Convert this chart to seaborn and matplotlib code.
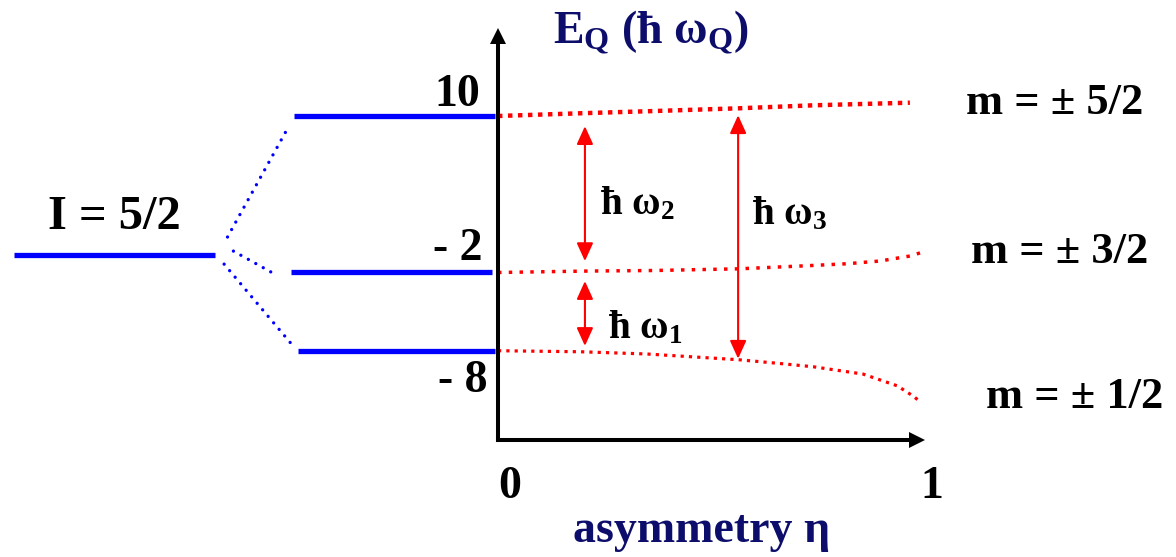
import numpy as np
import pandas as pd
import matplotlib
matplotlib.use("Agg")
import matplotlib.pyplot as plt
import seaborn as sns

# Quadrupole energies E_Q (units of hbar*omega_Q) versus asymmetry eta, I = 5/2
eta_52 = [0.0, 0.196, 0.369, 0.570, 0.747, 0.976]
E_52 = [10.0, 10.21, 10.38, 10.59, 10.82, 11.02]

eta_32 = [0.0, 0.213, 0.367, 0.570, 0.747, 0.827, 0.905, 0.976, 1.0]
E_32 = [-2.0, -1.89, -1.85, -1.72, -1.46, -1.33, -1.12, -0.74, -0.5]

eta_12 = [0.0, 0.196, 0.352, 0.570, 0.668, 0.747, 0.865, 0.946, 0.983, 1.0]
E_12 = [-8.0, -8.08, -8.25, -8.69, -8.98, -9.23, -9.79, -10.69, -11.46, -11.9]

level_labels = ["m = \u00b1 5/2", "m = \u00b1 3/2", "m = \u00b1 1/2"]
tick_values = [10, -2, -8]
tick_texts = ["10", "- 2", "- 8"]
E_unsplit = -0.67  # unperturbed I = 5/2 level in the schematic

W, H = 1176, 557
NAVY = "#0d0d6b"
BLUE = "#0000ff"
RED = "#ff0000"

sns.set_theme(style="white")
plt.rcParams["font.family"] = ["Liberation Serif", "DejaVu Serif"]
plt.rcParams["mathtext.fontset"] = "custom"
plt.rcParams["mathtext.rm"] = "Liberation Serif:bold"
plt.rcParams["mathtext.bf"] = "Liberation Serif:bold"
plt.rcParams["mathtext.it"] = "Liberation Serif:bold"


def fx(px):
    return px / W


def fy(py):
    return 1 - py / H


fig = plt.figure(figsize=(W / 100, H / 100), dpi=100)
ax_left, ax_right, ax_top, ax_bot = 498, 917, 36, 440
ax = fig.add_axes([fx(ax_left), fy(ax_bot), (ax_right - ax_left) / W, (ax_bot - ax_top) / H])

px_per_eta = 422.0
px_per_E = 13.04
y_ten = 116
ax.set_xlim(0, (ax_right - ax_left) / px_per_eta)
ax.set_ylim(10 - (ax_bot - y_ten) / px_per_E, 10 + (y_ten - ax_top) / px_per_E)

# eta-dependent levels
curves = [
    (eta_52, E_52, 3.2, (0, (1.0, 1.25))),
    (eta_32, E_32, 2.5, (0, (1.0, 2.1))),
    (eta_12, E_12, 2.3, (0, (1.0, 1.6))),
]
for eta, E, lw, ls in curves:
    df = pd.DataFrame({"eta": eta, "E": E})
    sns.lineplot(data=df, x="eta", y="E", ax=ax, color=RED, lw=lw,
                 linestyle=ls, estimator=None, sort=False, clip_on=False)
ax.set_xlabel("")
ax.set_ylabel("")

# zero-field splitting schematic on the left
unsplit_span = (-1.147, -0.671)
split_spans = [(-0.483, -0.007), (-0.490, -0.014), (-0.474, -0.007)]
ax.plot(unsplit_span, [E_unsplit, E_unsplit], color=BLUE, lw=3.8,
        solid_capstyle="butt", clip_on=False)
for (x0, x1), e in zip(split_spans, tick_values):
    ax.plot([x0, x1], [e, e], color=BLUE, lw=3.8, solid_capstyle="butt", clip_on=False)

link_start = [(-0.641, 0.72), (-0.627, -0.36), (-0.649, -1.36)]
link_end = [(-0.503, 8.79), (-0.526, -2.18), (-0.488, -7.54)]
for (xa, ya), (xb, yb) in zip(link_start, link_end):
    ax.plot([xa, xb], [ya, yb], color=BLUE, lw=2.4, linestyle=(0, (0.01, 2.55)),
            dash_capstyle="round", clip_on=False)

ax.annotate("I = 5/2", xy=(np.mean(unsplit_span), E_unsplit), xytext=(0, 38),
            textcoords="offset pixels", ha="center", va="center",
            fontsize=35, fontweight="bold", color="black", annotation_clip=False)

# axes with arrow heads
ax.set_xticks([])
ax.set_yticks([])
for side in ["top", "right"]:
    ax.spines[side].set_visible(False)
for side in ["left", "bottom"]:
    ax.spines[side].set_color("black")
    ax.spines[side].set_linewidth(2.9)
ax.plot(1, 0, marker=">", ms=11.5, mew=0, color="black", transform=ax.transAxes, clip_on=False)
ax.plot(0, 1, marker="^", ms=11.5, mew=0, color="black", transform=ax.transAxes, clip_on=False)

# energy tick labels
tick_offsets = [(-18, 20.5), (-16, 23), (-11, -30.5)]
for v, t, (dx, dy) in zip(tick_values, tick_texts, tick_offsets):
    ax.annotate(t, xy=(0, v), xytext=(dx, dy), textcoords="offset pixels",
                ha="right", va="center", fontsize=33, fontweight="bold",
                color="black", annotation_clip=False)

for v in [0, 1]:
    ax.annotate(str(v), xy=(v, ax.get_ylim()[0]), xytext=(12, -47),
                textcoords="offset pixels", ha="center", va="center",
                fontsize=33, fontweight="bold", color="black", annotation_clip=False)

# transition arrows
eta_a, eta_b = 0.206, 0.569
arrow_style = "<|-|>,head_length=11,head_width=5"


def transition(eta, lower, upper, shrink_low, shrink_up):
    e_low = np.interp(eta, lower[0], lower[1])
    e_up = np.interp(eta, upper[0], upper[1])
    ax.annotate("", xy=(eta, e_up), xytext=(eta, e_low),
                arrowprops=dict(arrowstyle=arrow_style, color=RED, lw=1.5,
                                mutation_scale=1, shrinkA=shrink_low, shrinkB=shrink_up),
                annotation_clip=False)


transition(eta_a, (eta_32, E_32), (eta_52, E_52), 7.2, 9.4)
transition(eta_a, (eta_12, E_12), (eta_32, E_32), 4.3, 7.2)
transition(eta_b, (eta_12, E_12), (eta_52, E_52), 0.7, 5.0)

hw_kw = dict(ha="left", va="baseline", fontsize=28, fontweight="bold", color="black")
fig.text(fx(600), fy(214), "\u0127 \u03c9$_\\mathbf{2}$", **hw_kw)
fig.text(fx(752), fy(224), "\u0127 \u03c9$_\\mathbf{3}$", **hw_kw)
fig.text(fx(608), fy(338), "\u0127 \u03c9$_\\mathbf{1}$", **hw_kw)

# level labels on the right
for (cx, cy), lab in zip([(1055, 103), (1060, 252), (1075, 397)], level_labels):
    fig.text(fx(cx), fy(cy), lab, ha="center", va="center",
             fontsize=32, fontweight="bold", color="black")

# axis titles
fig.text(fx(651), fy(43), "E$_\\mathbf{Q}$ (\u0127 \u03c9$_\\mathbf{Q}$)", ha="center",
         va="baseline", fontsize=33, fontweight="bold", color=NAVY)
fig.text(fx(702), fy(542), "asymmetry \u03b7", ha="center", va="baseline",
         fontsize=33, fontweight="bold", color=NAVY)

fig.savefig("out.png", dpi=100)
